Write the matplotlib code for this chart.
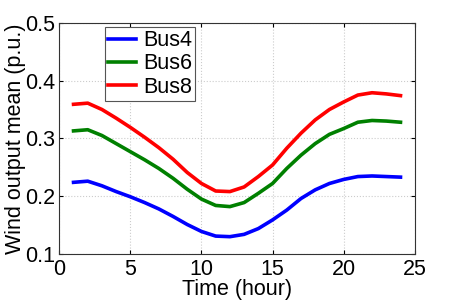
import matplotlib
matplotlib.use("Agg")
import matplotlib.pyplot as plt
import numpy as np

plt.rcParams['font.family'] = ['Liberation Sans', 'DejaVu Sans']

# hourly wind output mean (p.u.)
hours = np.arange(1, 25)
bus4 = [0.224, 0.226, 0.218, 0.208, 0.199, 0.189, 0.178, 0.165, 0.151, 0.139, 0.131, 0.130,
        0.134, 0.144, 0.159, 0.176, 0.196, 0.211, 0.222, 0.229, 0.234, 0.235, 0.234, 0.233]
bus6 = [0.313, 0.315, 0.305, 0.291, 0.277, 0.263, 0.248, 0.231, 0.212, 0.195, 0.184, 0.182,
        0.189, 0.205, 0.222, 0.248, 0.271, 0.291, 0.307, 0.317, 0.328, 0.331, 0.330, 0.328]
bus8 = [0.359, 0.361, 0.350, 0.335, 0.319, 0.302, 0.284, 0.264, 0.241, 0.222, 0.209, 0.208,
        0.216, 0.234, 0.254, 0.283, 0.309, 0.332, 0.350, 0.363, 0.375, 0.379, 0.377, 0.374]
names = ['Bus4', 'Bus6', 'Bus8']
colors = ['#0000ff', '#008000', '#ff0000']
fs = 15.5

fig = plt.figure(figsize=(4.58, 3.0), dpi=100)
ax = fig.add_axes([0.1295, 0.1533, 0.776, 0.7707])

for y, name, c in zip([bus4, bus6, bus8], names, colors):
    ax.plot(hours, y, color=c, lw=2.6, label=name)

ax.set_xlim(0, 25)
ax.set_ylim(0.1, 0.5)
ax.set_xticks([0, 5, 10, 15, 20, 25])
ax.set_yticks([0.1, 0.2, 0.3, 0.4, 0.5])
ax.set_yticklabels(['0.1', '0.2', '0.3', '0.4', '0.5'])
ax.grid(True, color='#cccccc', linestyle=':', linewidth=0.8)
for s in ax.spines.values():
    s.set_color('#333333')
ax.tick_params(direction='in', top=True, right=True, labelsize=fs, length=3)
ax.tick_params(axis='x', pad=3.5)
ax.tick_params(axis='y', pad=3)
ax.set_xlabel('Time (hour)', fontsize=fs, labelpad=-0.5)
ax.set_ylabel('Wind output mean (p.u.)', fontsize=fs, labelpad=-1)

leg = ax.legend(loc='upper left', bbox_to_anchor=(0.117, 1.0), fontsize=fs,
                handlelength=1.3, handletextpad=0.3, borderpad=0.15,
                labelspacing=0.1, borderaxespad=0.2, fancybox=False, framealpha=1)
leg.get_frame().set_edgecolor('#555555')
leg.get_frame().set_linewidth(0.8)

fig.savefig('out.png', dpi=100)
